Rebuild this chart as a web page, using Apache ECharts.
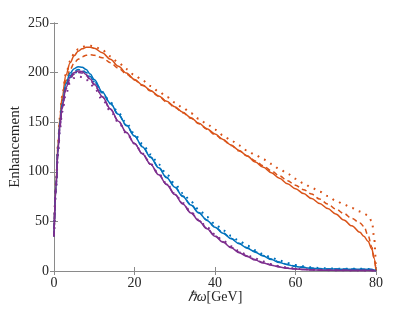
<!DOCTYPE html>
<html>
<head>
<meta charset="utf-8">
<script src="https://cdn.jsdelivr.net/npm/echarts@6/dist/echarts.min.js"></script>
<style>
html,body{margin:0;padding:0;background:#fff;}
#c{width:415px;height:312px;}
</style>
</head>
<body>
<div id="c"></div>
<script>
// x positions (GeV)
const xs = [0,0.5,1,1.5,2,3,4,5,6,7,8,9,10,12,14,16,18,20,22,24,26,28,30,32,34,36,38,40,42,44,46,48,50,52,54,56,58,60,62,64,66,68,70,72,74,76,77,78,79,79.5,80];

// orange curves
const orangeSolid = [35,88,128,155,175,198,210,217,221.5,224,225.5,225.5,224.5,220,213.5,206.5,199.5,193,187.5,182,176.5,171,165.5,160,154.5,149,143.5,138,132.5,127,121.5,116,110,104.5,99,93.5,88,83,78,73,68,63,57.5,51.5,45.5,39,35,30,22,13,0];
const orangeDashed = [35,87,126,152,171,192,203,209.5,213.5,216,217.5,218,217.5,215,210,204.5,198.5,192.5,187,181.5,176,170.5,165,159.5,154,148.5,143,137.5,132,126.5,121,116,111,106,101,96,91,86.5,82,77.5,72.5,67.5,62.5,58,53,48.5,45,36,24,13,0];
const orangeDotted = [35,89,129,156,176,199,211.5,219,223.5,226,227,227,226.5,222.5,216.5,210,203.5,197.5,192,186.5,181,175.5,170,164.5,159,153.5,148,142.5,137,131.5,126.5,121.5,117,112.5,108,103,98,93,88.5,84,80,75.5,71,67,63.5,60,58,56,50,35,0];

// blue curves
const blueSolid = [35,86,124,150,168,189,199.5,204,206,205.5,203,198.5,193,180.5,169,158,147,136,125,114.5,104,94,84.5,75,66.5,58.5,51,44,38,32.5,27.5,23,19,15,11.5,8.5,6.3,4.6,3.5,2.7,2.2,2,1.9,1.8,1.8,1.7,1.7,1.6,1.5,1,0];
const blueDashed = [35,86,123,148,166,186.5,197,201.5,203,202.5,200,196,191,179.5,168.5,157.5,146.5,136,125.5,115,104.5,94.5,85,75.5,67,59,51.5,44.5,38.5,33,28,23.5,19.5,15.5,12,9,6.7,5,3.8,3,2.4,2.1,2,1.9,1.9,1.8,1.8,1.7,1.6,1,0];
const blueDotted = [35,85,122,147,165,185,195,199.5,201,201,199,195.5,191,180.5,170,159.5,149,138.5,128,117.5,107.5,97.5,88,78.5,70,62,54.5,47.5,41,35.5,30.5,25.5,21,17,13.5,10.5,8,6,4.7,3.7,3,2.6,2.4,2.3,2.2,2.2,2.1,2,1.8,1,0];

// purple curves
const purpleSolid = [35,85,122,147,165,185,195.5,200,201.5,201,198,193.5,188.5,176,163.5,151,139.5,128.5,118,107.5,97,87,77,67.5,58.5,50.5,42.5,35,29,23.5,18.5,14.5,11,8,5.8,4,2.7,2,1.4,1,0.8,0.7,0.6,0.6,0.5,0.5,0.5,0.5,0.4,0.3,0];
const purpleDashed = [35,85,121,146,164,183.5,194,198.5,200,199.5,197,192.5,187.5,175.5,163,151,139.5,128.5,118,107.5,97.5,87.5,77.5,68,59,51,43,35.5,29.5,24,19,15,11.5,8.5,6.2,4.3,3,2.2,1.6,1.2,0.9,0.8,0.7,0.7,0.6,0.6,0.6,0.6,0.5,0.3,0];
const purpleDotted = [35,84,119,143,160,179,189.5,194.5,196,195.5,193,189,184.5,173,161.5,150,139,128.5,118.5,108,98,88,78,68.5,59.5,51.5,44,37,30.5,25,20,16,12.5,9.5,7,5,3.5,2.5,1.8,1.3,1,0.8,0.7,0.7,0.6,0.6,0.6,0.6,0.5,0.3,0];

const xTicks = [0,20,40,60,80];
const yTicks = [0,50,100,150,200,250];

const C_OR = '#D95319', C_BL = '#0072BD', C_PU = '#7E2F8E';
const DASH = [5,3.5];
const DOT = [1.8,5.5];

function pairs(ys){ return xs.map((x,i)=>[x, ys[i]]); }
function mk(name, ys, color, type, w){
  return {name, type:'line', data:pairs(ys), showSymbol:false, smooth:0.35, smoothMonotone:'x',
    lineStyle:{color, width:w, type:type, cap:'butt'}, xAxisIndex:0, yAxisIndex:0, z:2};
}

const font = "'Liberation Serif', 'Times New Roman', serif";
const axisCol = '#8a8a8a';
const txtCol = '#262626';

const chart = echarts.init(document.getElementById('c'), null, {renderer:'canvas'});
chart.setOption({
  animation:false,
  backgroundColor:'#ffffff',
  grid:{left:54, right:39, top:23, bottom:41, containLabel:false, outerBoundsMode:'none'},
  xAxis:[
    {type:'value', min:xTicks[0], max:xTicks[xTicks.length-1], interval:20, position:'bottom',
     name:'{i|ℏω}[GeV]', nameLocation:'middle', nameGap:19, nameMoveOverlap:false,
     nameTextStyle:{fontFamily:font, fontSize:14, color:txtCol, verticalAlign:'top',
       rich:{i:{fontFamily:font, fontStyle:'italic', fontSize:14, color:txtCol}}},
     axisLine:{show:true, lineStyle:{color:axisCol, width:1}},
     axisTick:{show:true, inside:true, length:4, lineStyle:{color:axisCol}},
     axisLabel:{fontFamily:font, fontSize:14, color:txtCol, margin:5},
     splitLine:{show:false}},
    {type:'value', min:xTicks[0], max:xTicks[xTicks.length-1], interval:20, position:'top',
     axisLine:{show:true, lineStyle:{color:axisCol, width:1}},
     axisTick:{show:true, inside:true, length:4, lineStyle:{color:axisCol}},
     axisLabel:{show:false}, splitLine:{show:false}}
  ],
  yAxis:[
    {type:'value', min:yTicks[0], max:yTicks[yTicks.length-1], interval:50, position:'left',
     name:'Enhancement', nameLocation:'middle', nameGap:31, nameMoveOverlap:false,
     nameTextStyle:{fontFamily:font, fontSize:15, color:txtCol},
     axisLine:{show:true, lineStyle:{color:axisCol, width:1}},
     axisTick:{show:true, inside:true, length:4, lineStyle:{color:axisCol}},
     axisLabel:{fontFamily:font, fontSize:14, color:txtCol, margin:5},
     splitLine:{show:false}},
    {type:'value', min:yTicks[0], max:yTicks[yTicks.length-1], interval:50, position:'right',
     axisLine:{show:true, lineStyle:{color:axisCol, width:1}},
     axisTick:{show:true, inside:true, length:4, lineStyle:{color:axisCol}},
     axisLabel:{show:false}, splitLine:{show:false}}
  ],
  series:[
    mk('o-solid', orangeSolid, C_OR, 'solid', 1.5),
    mk('o-dash', orangeDashed, C_OR, DASH, 1.5),
    mk('o-dot', orangeDotted, C_OR, DOT, 2),
    mk('b-solid', blueSolid, C_BL, 'solid', 1.5),
    mk('b-dash', blueDashed, C_BL, DASH, 1.5),
    mk('b-dot', blueDotted, C_BL, DOT, 2),
    mk('p-solid', purpleSolid, C_PU, 'solid', 1.5),
    mk('p-dash', purpleDashed, C_PU, DASH, 1.5),
    mk('p-dot', purpleDotted, C_PU, DOT, 2)
  ]
});
</script>
</body>
</html>
